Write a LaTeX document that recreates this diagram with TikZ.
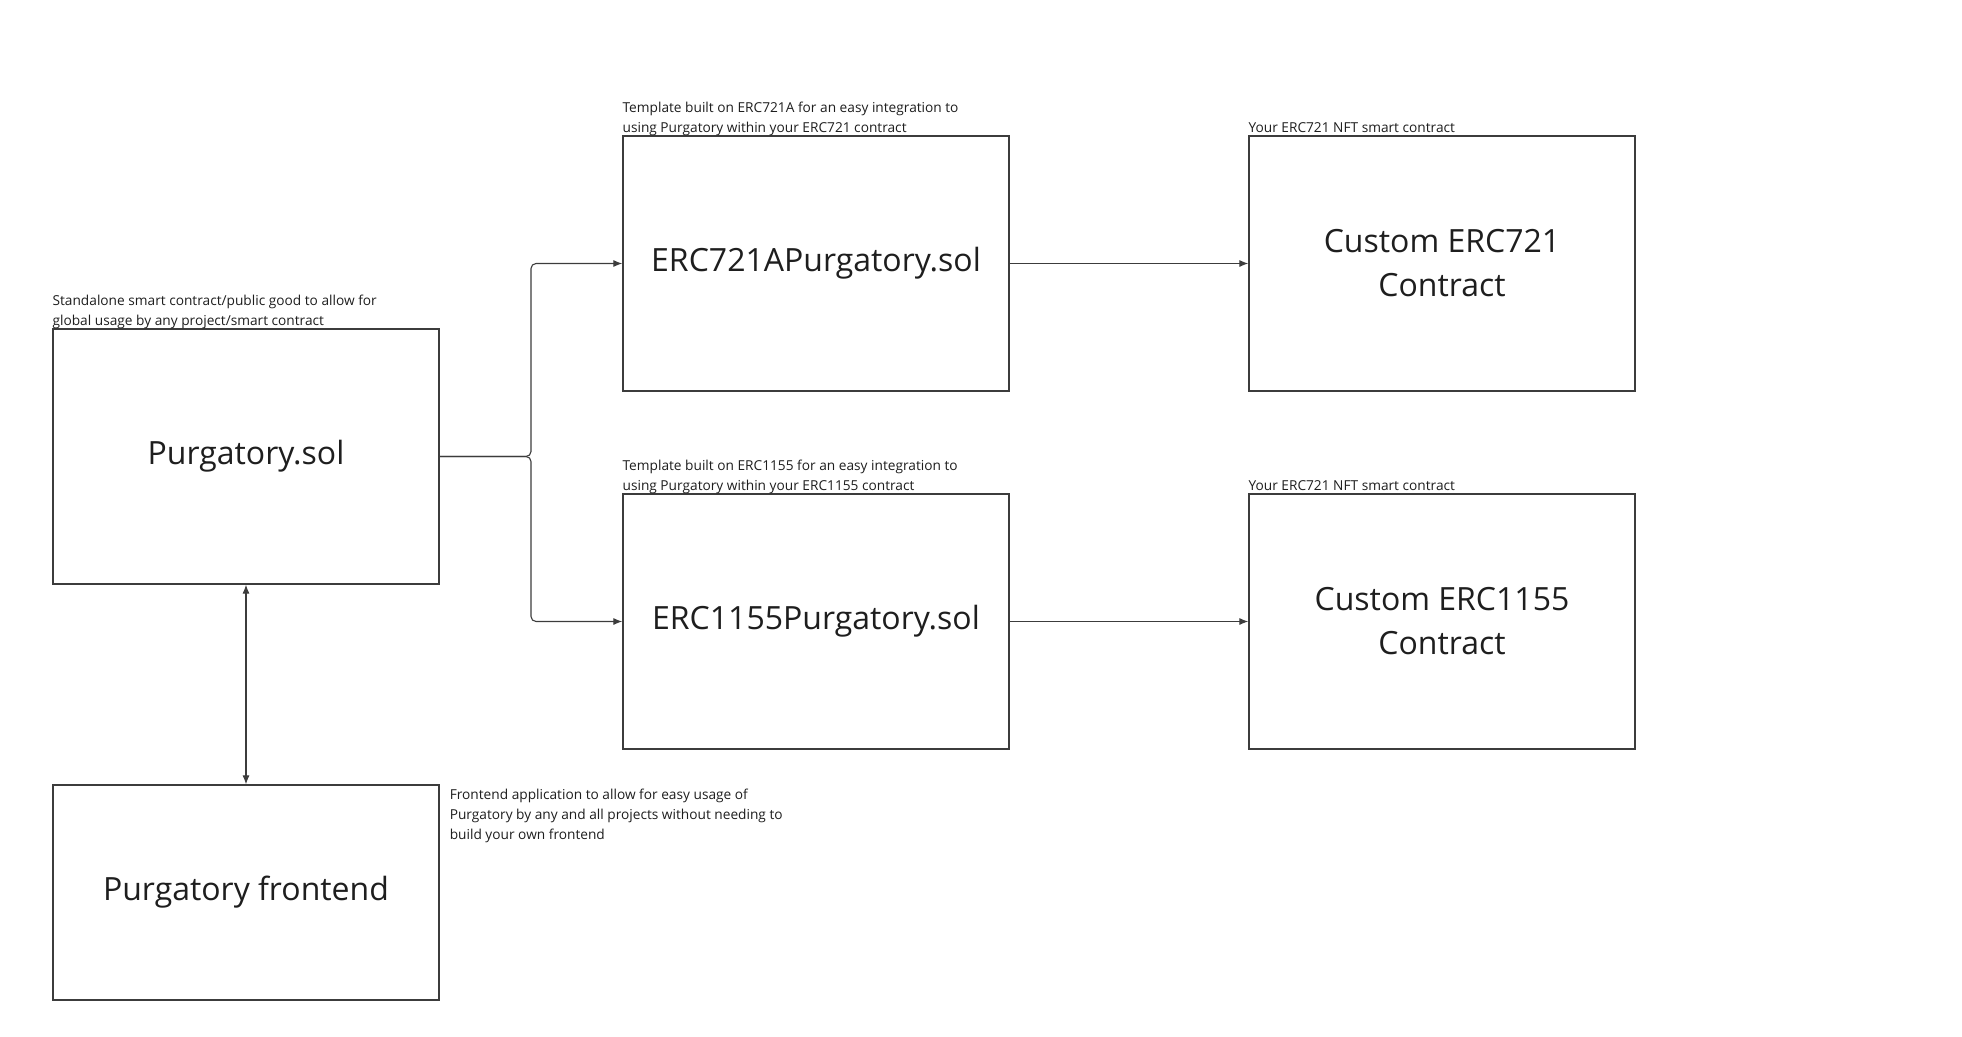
\documentclass[tikz,border=0pt]{standalone}
\usepackage{fontspec}
\setmainfont{Open Sans}
\usetikzlibrary{positioning,arrows.meta}
\definecolor{linegray}{HTML}{3C3C3C}
\definecolor{textdark}{HTML}{1E1E1E}
\begin{document}
\begin{tikzpicture}[x=1pt,y=-1pt,
	box/.style={draw=linegray, line width=1.2pt, minimum width=386pt, minimum height=255pt, inner sep=0pt, align=center, text=textdark, font=\fontsize{32}{44}\selectfont},
	note/.style={inner sep=0pt, align=left, text=textdark, font=\fontsize{13.7}{20}\selectfont},
	conn/.style={draw=linegray, line width=1.1pt},
	tip/.style={-{Latex[length=9pt,width=7pt]}}]
	\useasboundingbox (0,0) rectangle (1962,1036);
	% main contract and its frontend
	\node[box] (purg) at (246,456.5) {Purgatory.sol};
	\node[box, minimum height=215pt] (front) at (246,892.5) {Purgatory frontend};
	% templates
	\node[box] (erca) at (816,263.5) {ERC721APurgatory.sol};
	\node[box] (ercb) at (816,621.5) {ERC1155Purgatory.sol};
	% custom contracts
	\node[box] (cusa) at (1442,263.5) {Custom ERC721\\Contract};
	\node[box] (cusb) at (1442,621.5) {Custom ERC1155\\Contract};
	% notes
	\node[note, above=-1pt of purg.north west, anchor=south west] (purgnote) {Standalone smart contract/public good to allow for\\global usage by any project/smart contract};
	\node[note, above=-1pt of erca.north west, anchor=south west] (ercanote) {Template built on ERC721A for an easy integration to\\using Purgatory within your ERC721 contract};
	\node[note, above=-1pt of ercb.north west, anchor=south west] (ercbnote) {Template built on ERC1155 for an easy integration to\\using Purgatory within your ERC1155 contract};
	\node[note, above=3pt of cusa.north west, anchor=south west] (cusanote) {Your ERC721 NFT smart contract};
	\node[note, above=3pt of cusb.north west, anchor=south west] (cusbnote) {Your ERC721 NFT smart contract};
	\node[note, right=10pt of front.north east, anchor=north west, yshift=-4pt] (frontnote) {Frontend application to allow for easy usage of\\Purgatory by any and all projects without needing to\\build your own frontend};
	% connectors
	\coordinate (split) at (531,456.5);
	\draw[conn, tip, rounded corners=5pt] (purg.east) -- (split) |- (erca.west);
	\draw[conn, tip, rounded corners=5pt] (purg.east) -- (split) |- (ercb.west);
	\draw[conn, tip] (erca.east) -- (cusa.west);
	\draw[conn, tip] (ercb.east) -- (cusb.west);
	\draw[conn, {Latex[length=9pt,width=7pt]}-{Latex[length=9pt,width=7pt]}] (purg.south) -- (front.north);
\end{tikzpicture}
\end{document}
